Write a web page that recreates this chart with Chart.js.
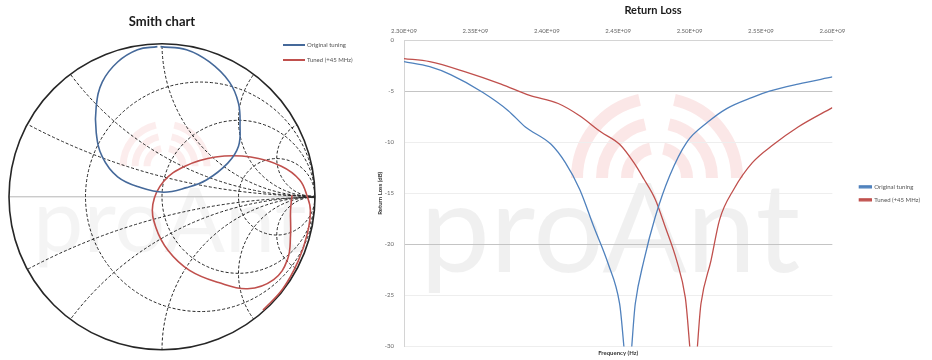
<!DOCTYPE html>
<html>
<head>
<meta charset="utf-8">
<script src="https://cdn.jsdelivr.net/npm/chart.js@4"></script>
<style>
  body { margin: 0; background: #fff; }
  #wrap { position: relative; width: 932px; height: 360px; }
  canvas { position: absolute; top: 0; }
</style>
</head>
<body>
<div id="wrap">
  <canvas id="smith" width="370" height="360" style="left:0"></canvas>
  <canvas id="rl" width="562" height="360" style="left:370px"></canvas>
</div>
<script>
// Smith chart traces (reflection coefficient, real / imaginary)
const smithOriginalRe = [-0.01, 0.16, 0.31, 0.44, 0.50, 0.51, 0.50, 0.43, 0.29, 0.16, 0.01, -0.14, -0.29, -0.39, -0.43, -0.43, -0.39, -0.29, -0.16, -0.03];
const smithOriginalIm = [0.98, 0.96, 0.88, 0.75, 0.61, 0.46, 0.33, 0.22, 0.11, 0.06, 0.03, 0.06, 0.13, 0.26, 0.42, 0.59, 0.75, 0.88, 0.96, 0.98];
const smithTunedRe = [0.66, 0.79, 0.89, 0.95, 0.97, 0.95, 0.90, 0.78, 0.58, 0.35, 0.15, 0.01, -0.06, -0.04, 0.04, 0.18, 0.37, 0.56, 0.73, 0.82, 0.84, 0.84, 0.85];
const smithTunedIm = [-0.74, -0.60, -0.42, -0.24, -0.09, 0.00, 0.11, 0.20, 0.26, 0.26, 0.20, 0.10, -0.05, -0.20, -0.35, -0.48, -0.56, -0.60, -0.54, -0.41, -0.25, -0.09, 0.01];

// Smith grid values
const resistanceCircles = [1 / 3, 1, 3];
const reactanceArcs = [0.25, 0.5, 1, 2, 4];

// Return loss (frequency in MHz, return loss in dB)
const freqOriginal = [2300, 2318, 2333, 2355, 2373, 2385, 2403, 2413, 2423, 2433, 2443, 2451, 2457, 2462, 2468, 2476, 2486, 2498, 2513, 2526, 2544, 2556, 2576, 2600];
const rlOriginal = [-2.1, -2.6, -3.4, -5.1, -6.9, -8.5, -10.2, -12.0, -14.6, -18.3, -21.9, -25.8, -33, -25.8, -21.6, -17.3, -13.3, -10.0, -8.0, -6.7, -5.6, -5.0, -4.3, -3.6];
const freqTuned = [2300, 2318, 2343, 2368, 2388, 2408, 2423, 2438, 2451, 2461, 2468, 2476, 2483, 2491, 2497, 2503, 2508, 2515, 2521, 2531, 2544, 2559, 2576, 2600];
const rlTuned = [-1.8, -2.1, -3.1, -4.3, -5.4, -6.2, -7.4, -9.0, -10.2, -12.0, -13.6, -15.6, -18.3, -21.6, -25.2, -33, -25.8, -21.6, -17.6, -14.6, -12.0, -10.2, -8.5, -6.6];

const seriesNames = ['Original tuning', 'Tuned (+45 MHz)'];
const freqTickLabels = ['2.30E+09', '2.35E+09', '2.40E+09', '2.45E+09', '2.50E+09', '2.55E+09', '2.60E+09'];
const rlTickLabels = ['-30', '-25', '-20', '-15', '-10', '-5', '0'];

const FONT = 'Lato, "Open Sans", sans-serif';
Chart.defaults.font.family = FONT;

function watermark(ctx, x, y, size, alpha, ax, ay, radii, width) {
  ctx.save();
  ctx.strokeStyle = 'rgba(232,120,120,' + alpha * 3 + ')';
  ctx.lineWidth = width;
  radii.forEach(r => {
    ctx.beginPath();
    ctx.arc(ax, ay, r, Math.PI * 1.0, Math.PI * 1.43);
    ctx.stroke();
    ctx.beginPath();
    ctx.arc(ax, ay, r, Math.PI * 1.57, Math.PI * 2.0);
    ctx.stroke();
  });
  ctx.fillStyle = 'rgba(0,0,0,' + alpha + ')';
  ctx.font = '400 ' + size + 'px ' + FONT;
  ctx.textBaseline = 'alphabetic';
  ctx.fillText('proAnt', x, y);
  ctx.restore();
}

const smithGrid = {
  id: 'smithGrid',
  beforeDatasetsDraw(chart) {
    const { ctx, scales: { x, y } } = chart;
    const px = v => x.getPixelForValue(v);
    const py = v => y.getPixelForValue(v);
    const unit = px(1) - px(0);
    watermark(ctx, 33, 252, 90, 0.045, px(0.02), py(0.2), [18, 30, 42], 7);
    ctx.save();
    ctx.strokeStyle = '#b5b5b5';
    ctx.lineWidth = 1;
    ctx.beginPath();
    ctx.moveTo(px(-1), py(0));
    ctx.lineTo(px(1), py(0));
    ctx.stroke();

    ctx.beginPath();
    ctx.arc(px(0), py(0), unit, 0, Math.PI * 2);
    ctx.clip();
    ctx.strokeStyle = '#262626';
    ctx.setLineDash([3, 2]);
    resistanceCircles.forEach(r => {
      ctx.beginPath();
      ctx.arc(px(r / (1 + r)), py(0), unit / (1 + r), 0, Math.PI * 2);
      ctx.stroke();
    });
    reactanceArcs.forEach(v => {
      [v, -v].forEach(xv => {
        ctx.beginPath();
        ctx.arc(px(1), py(1 / xv), unit / Math.abs(xv), 0, Math.PI * 2);
        ctx.stroke();
      });
    });
    ctx.restore();

    ctx.save();
    ctx.strokeStyle = '#262626';
    ctx.lineWidth = 1.6;
    ctx.beginPath();
    ctx.arc(px(0), py(0), unit, 0, Math.PI * 2);
    ctx.stroke();
    ctx.restore();
  },
  afterDraw(chart) {
    const ctx = chart.ctx;
    ctx.save();
    ctx.font = '6px ' + FONT;
    ctx.textBaseline = 'middle';
    chart.data.datasets.forEach((ds, i) => {
      const ly = 45 + i * 15;
      ctx.strokeStyle = ds.borderColor;
      ctx.lineWidth = 2;
      ctx.beginPath();
      ctx.moveTo(283, ly);
      ctx.lineTo(305, ly);
      ctx.stroke();
      ctx.fillStyle = '#555';
      ctx.fillText(ds.label, 307, ly);
    });
    ctx.restore();
  }
};

new Chart(document.getElementById('smith'), {
  type: 'scatter',
  data: {
    datasets: [
      {
        label: seriesNames[0],
        data: smithOriginalRe.map((re, i) => ({ x: re, y: smithOriginalIm[i] })),
        borderColor: '#45699a',
        showLine: true,
        borderWidth: 1.6,
        pointRadius: 0,
        tension: 0.4
      },
      {
        label: seriesNames[1],
        data: smithTunedRe.map((re, i) => ({ x: re, y: smithTunedIm[i] })),
        borderColor: '#c0504d',
        showLine: true,
        borderWidth: 1.6,
        pointRadius: 0,
        tension: 0.4
      }
    ]
  },
  options: {
    responsive: false,
    animation: false,
    layout: { padding: { left: 9, right: 55, top: 14, bottom: 10 } },
    plugins: {
      legend: { display: false },
      tooltip: { enabled: false },
      title: {
        display: true,
        text: 'Smith chart',
        color: '#1a1a1a',
        font: { size: 13, weight: 'bold' },
        padding: { top: 0, bottom: 14 }
      }
    },
    scales: {
      x: { display: false, min: -1, max: 1 },
      y: { display: false, min: -1, max: 1 }
    }
  },
  plugins: [smithGrid]
});

const rlWatermark = {
  id: 'rlWatermark',
  beforeDraw(chart) {
    watermark(chart.ctx, 50, 272, 125, 0.06, 287, 178, [30, 55, 80], 12);
  }
};

new Chart(document.getElementById('rl'), {
  type: 'line',
  data: {
    datasets: [
      {
        label: seriesNames[0],
        data: freqOriginal.map((f, i) => ({ x: f, y: rlOriginal[i] })),
        xAxisID: 'x',
        borderColor: '#4f81bd',
        backgroundColor: '#4f81bd',
        borderWidth: 1.3,
        pointRadius: 0,
        cubicInterpolationMode: 'monotone'
      },
      {
        label: seriesNames[1],
        data: freqTuned.map((f, i) => ({ x: f, y: rlTuned[i] })),
        xAxisID: 'x',
        borderColor: '#c0504d',
        backgroundColor: '#c0504d',
        borderWidth: 1.3,
        pointRadius: 0,
        cubicInterpolationMode: 'monotone'
      }
    ]
  },
  options: {
    responsive: false,
    animation: false,
    layout: { padding: { left: 6, right: 2, top: 2, bottom: 3 } },
    plugins: {
      tooltip: { enabled: false },
      title: {
        display: true,
        text: 'Return Loss',
        color: '#1a1a1a',
        font: { size: 11, weight: 'bold' },
        padding: { top: 2, bottom: 2 }
      },
      legend: {
        position: 'right',
        fullSize: false,
        labels: { boxWidth: 12, boxHeight: 2, padding: 7, color: '#555', font: { size: 6 } }
      }
    },
    scales: {
      x: {
        type: 'linear',
        position: 'top',
        min: 2300,
        max: 2600,
        ticks: { stepSize: 50, color: '#666', font: { size: 6 }, padding: 6, callback: (v, i) => freqTickLabels[i] },
        grid: { drawOnChartArea: false, drawTicks: false },
        border: { color: '#d4d4d4' },
        afterFit(s) { s.height = 21; }
      },
      xb: {
        type: 'linear',
        position: 'bottom',
        min: 2300,
        max: 2600,
        ticks: { display: false },
        grid: { display: false },
        border: { display: false },
        title: { display: true, text: 'Frequency (Hz)', color: '#333', font: { size: 6, weight: 'bold' }, padding: { top: 2, bottom: 0 } },
        afterFit(s) { s.height = 10; }
      },
      y: {
        min: -30,
        max: 0,
        ticks: { stepSize: 5, color: '#666', font: { size: 6 }, padding: 10, callback: (v, i) => rlTickLabels[i] },
        grid: {
          drawTicks: false,
          color: c => (c.tick && (c.tick.value === -5 || c.tick.value === -20)) ? '#c4c4c4' : '#eeeeee'
        },
        border: { color: '#d4d4d4' },
        title: { display: true, text: 'Return Loss (dB)', color: '#333', font: { size: 6, weight: 'bold' }, padding: 0 },
        afterFit(s) { s.width = 28; }
      },
      yr: {
        position: 'right',
        min: -30,
        max: 0,
        ticks: { display: false },
        grid: { display: false },
        border: { display: false },
        afterFit(s) { s.width = 20; }
      }
    }
  },
  plugins: [rlWatermark]
});
</script>
</body>
</html>
